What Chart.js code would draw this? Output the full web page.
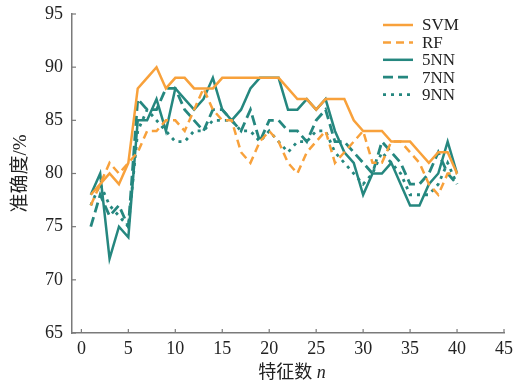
<!DOCTYPE html>
<html>
<head>
<meta charset="utf-8">
<script src="https://cdn.jsdelivr.net/npm/chart.js@4/dist/chart.umd.min.js"></script>
<style>
  body { margin: 0; background: #fff; }
  #wrap { position: relative; width: 526px; height: 388px; }
  #xTitle {
    position: absolute; left: 192px; top: 357px; width: 200px;
    text-align: center; font: 18px "Liberation Serif", "Noto Sans CJK SC"; color: #222;
  }
  #xTitle i { font-family: "Liberation Serif"; }
</style>
</head>
<body>
<div id="wrap">
  <canvas id="lineChart" width="526" height="388"></canvas>
  <div id="xTitle">特征数 <i>n</i></div>
</div>
<script>
const featureCounts = [1, 2, 3, 4, 5, 6, 7, 8, 9, 10, 11, 12, 13, 14, 15, 16, 17, 18, 19, 20,
  21, 22, 23, 24, 25, 26, 27, 28, 29, 30, 31, 32, 33, 34, 35, 36, 37, 38, 39, 40];
const svmAcc = [78, 79, 80, 79, 81, 88, 89, 90, 88, 89, 89, 88, 88, 88, 89, 89, 89, 89, 89, 89,
  89, 88, 87, 87, 86, 87, 87, 87, 85, 84, 84, 84, 83, 83, 83, 82, 81, 82, 82, 80];
const rfAcc = [77, 79, 81, 80, 81, 82, 84, 84, 85, 85, 84, 86, 88, 86, 85, 85, 82, 81, 83, 84,
  83, 81, 80, 82, 83, 84, 81, 82, 83, 84, 81, 81, 83, 83, 82, 81, 79, 78, 80, 80];
const knn5Acc = [78, 80, 72, 75, 74, 85, 85, 87, 84, 88, 87, 86, 87, 89, 86, 85, 86, 88, 89, 89,
  89, 86, 86, 87, 86, 87, 84, 82, 81, 78, 80, 80, 81, 79, 77, 77, 79, 80, 83, 80];
const knn7Acc = [75, 78, 76, 77, 75, 87, 86, 86, 88, 88, 86, 85, 84, 86, 86, 85, 84, 86, 83, 85,
  85, 84, 84, 83, 85, 86, 83, 83, 82, 81, 80, 83, 82, 81, 79, 79, 80, 82, 80, 79];
const knn9Acc = [77, 79, 77, 76, 75, 84, 86, 85, 84, 83, 83, 84, 84, 85, 85, 85, 84, 84, 83, 84,
  83, 82, 83, 83, 84, 84, 82, 81, 80, 79, 80, 82, 81, 80, 78, 78, 78, 79, 81, 79];
const xTicks = [0, 5, 10, 15, 20, 25, 30, 35, 40, 45];
const yTicks = [65, 70, 75, 80, 85, 90, 95];

const orange = '#F8A13B';
const teal = '#25877F';
const axisColor = '#7a7a7a';
const serif = '"Liberation Serif", "Noto Sans CJK SC"';

function toPoints(values) {
  return featureCounts.map((n, i) => ({ x: n, y: values[i] }));
}

// legend drawn inside the plot, top right
const insideLegend = {
  id: 'insideLegend',
  afterDatasetsDraw(chart) {
    const ctx = chart.ctx;
    ctx.save();
    ctx.font = '17px ' + serif;
    ctx.textBaseline = 'middle';
    chart.data.datasets.forEach((ds, i) => {
      const y = 25 + i * 17.4;
      ctx.strokeStyle = ds.borderColor;
      ctx.lineWidth = ds.borderWidth;
      ctx.setLineDash(ds.borderDash || []);
      ctx.beginPath();
      ctx.moveTo(383, y);
      ctx.lineTo(413, y);
      ctx.stroke();
      ctx.setLineDash([]);
      ctx.fillStyle = '#222';
      ctx.fillText(ds.label, 422, y + 1);
    });
    ctx.restore();
  }
};

// short tick marks pointing into the plot
const innerTicks = {
  id: 'innerTicks',
  afterDraw(chart) {
    const { ctx, chartArea, scales } = chart;
    ctx.save();
    ctx.strokeStyle = axisColor;
    ctx.lineWidth = 1.2;
    scales.x.ticks.forEach(t => {
      const px = scales.x.getPixelForValue(t.value);
      ctx.beginPath();
      ctx.moveTo(px, chartArea.bottom);
      ctx.lineTo(px, chartArea.bottom - 4);
      ctx.stroke();
    });
    scales.y.ticks.forEach(t => {
      const py = scales.y.getPixelForValue(t.value);
      ctx.beginPath();
      ctx.moveTo(chartArea.left, py);
      ctx.lineTo(chartArea.left + 4, py);
      ctx.stroke();
    });
    ctx.restore();
  }
};

const ctx = document.getElementById('lineChart').getContext('2d');
new Chart(ctx, {
  type: 'line',
  data: {
    datasets: [
      { label: 'SVM', data: toPoints(svmAcc), borderColor: orange, borderWidth: 2.5 },
      { label: 'RF', data: toPoints(rfAcc), borderColor: orange, borderWidth: 2.5, borderDash: [8, 5] },
      { label: '5NN', data: toPoints(knn5Acc), borderColor: teal, borderWidth: 2.5 },
      { label: '7NN', data: toPoints(knn7Acc), borderColor: teal, borderWidth: 2.8, borderDash: [10, 5] },
      { label: '9NN', data: toPoints(knn9Acc), borderColor: teal, borderWidth: 2.8, borderDash: [3, 5] }
    ]
  },
  options: {
    responsive: false,
    animation: false,
    elements: { point: { radius: 0 }, line: { tension: 0, fill: false } },
    layout: { padding: { left: 10, top: 14, right: 22, bottom: 0 } },
    plugins: { legend: { display: false }, tooltip: { enabled: false } },
    scales: {
      x: {
        type: 'linear',
        min: -1,
        max: 45,
        afterBuildTicks: scale => { scale.ticks = xTicks.map(v => ({ value: v })); },
        afterFit: scale => { scale.height = 55; },
        grid: { display: false, drawTicks: false },
        border: { display: true, color: axisColor, width: 1.5 },
        ticks: { color: '#222', padding: 5, maxRotation: 0, font: { family: serif, size: 18 } }
      },
      y: {
        min: 65,
        max: 95,
        afterBuildTicks: scale => { scale.ticks = yTicks.map(v => ({ value: v })); },
        afterFit: scale => {
          scale.width = 62;
          scale.paddingTop = 0;
          scale.paddingBottom = 0;
        },
        grid: { display: false, drawTicks: false },
        border: { display: true, color: axisColor, width: 1.5 },
        ticks: { color: '#222', padding: 9, font: { family: serif, size: 18 } },
        title: {
          display: true,
          text: '准确度/%',
          color: '#222',
          padding: 0,
          font: { family: serif, size: 19 }
        }
      }
    }
  },
  plugins: [insideLegend, innerTicks]
});
</script>
</body>
</html>
